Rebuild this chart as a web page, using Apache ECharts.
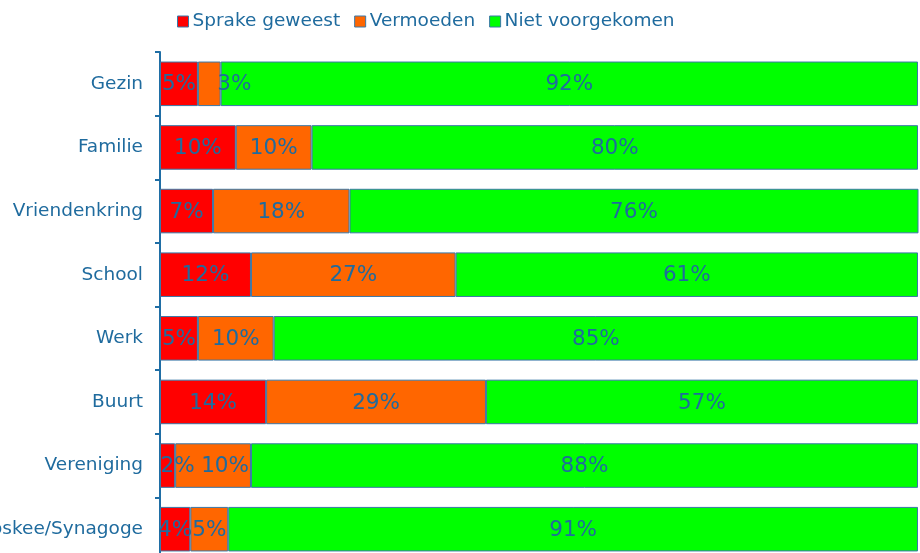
<!DOCTYPE html>
<html>
<head>
<meta charset="utf-8">
<script src="https://cdn.jsdelivr.net/npm/echarts@6/dist/echarts.min.js"></script>
<style>
  html, body { margin: 0; padding: 0; background: #fff; }
  #chart { width: 920px; height: 553px; }
</style>
</head>
<body>
<div id="chart"></div>
<script>
const categories = ['Gezin', 'Familie', 'Vriendenkring', 'School', 'Werk', 'Buurt', 'Vereniging', 'Kerk/Moskee/Synagoge']
const sprakeGeweest = [5, 10, 7, 12, 5, 14, 2, 4]
const vermoeden = [3, 10, 18, 27, 10, 29, 10, 5]
const nietVoorgekomen = [92, 80, 76, 61, 85, 57, 88, 91]

const textColor = '#1f6b9e'
const font = 'DejaVu Sans'

// labels that Excel pushed aside because the segment was too narrow
const labelShift = {
  'Sprake geweest': { 6: 10 },
  'Vermoeden': { 0: 25, 6: 12 }
}

function makeSeries (name, values, color) {
  const shifts = labelShift[name] || {}
  return {
    name: name,
    type: 'bar',
    stack: 'totaal',
    barCategoryGap: '30%',
    itemStyle: { color: color, borderColor: '#3a78a8', borderWidth: 1 },
    label: {
      show: true,
      position: 'inside',
      formatter: '{c}%',
      color: textColor,
      fontFamily: font,
      fontSize: 21.5,
      offset: [0, 1]
    },
    data: values.map(function (v, i) {
      if (shifts[i] === undefined) return v
      return { value: v, label: { offset: [shifts[i], 1] } }
    })
  }
}

const chart = echarts.init(document.getElementById('chart'))
chart.setOption({
  animation: false,
  legend: {
    left: 172,
    top: 7,
    itemWidth: 11,
    itemHeight: 11,
    itemGap: 14,
    icon: 'rect',
    itemStyle: { borderColor: '#3a78a8', borderWidth: 1 },
    textStyle: { color: textColor, fontFamily: font, fontSize: 18.5, padding: [0, 0, 0, -1] }
  },
  grid: { left: 160, top: 52, width: 758, height: 509, outerBoundsMode: 'none' },
  xAxis: {
    type: 'value',
    min: 0,
    max: 100,
    show: false
  },
  yAxis: {
    type: 'category',
    inverse: true,
    data: categories,
    axisLine: { show: true, lineStyle: { color: '#1f6ea5', width: 2 } },
    axisTick: { show: true, length: 5, lineStyle: { color: '#1f6ea5', width: 2 } },
    axisLabel: { color: textColor, fontFamily: font, fontSize: 18.5, margin: 17 }
  },
  series: [
    makeSeries('Sprake geweest', sprakeGeweest, '#ff0000'),
    makeSeries('Vermoeden', vermoeden, '#ff6600'),
    makeSeries('Niet voorgekomen', nietVoorgekomen, '#00ff00')
  ]
})
</script>
</body>
</html>
